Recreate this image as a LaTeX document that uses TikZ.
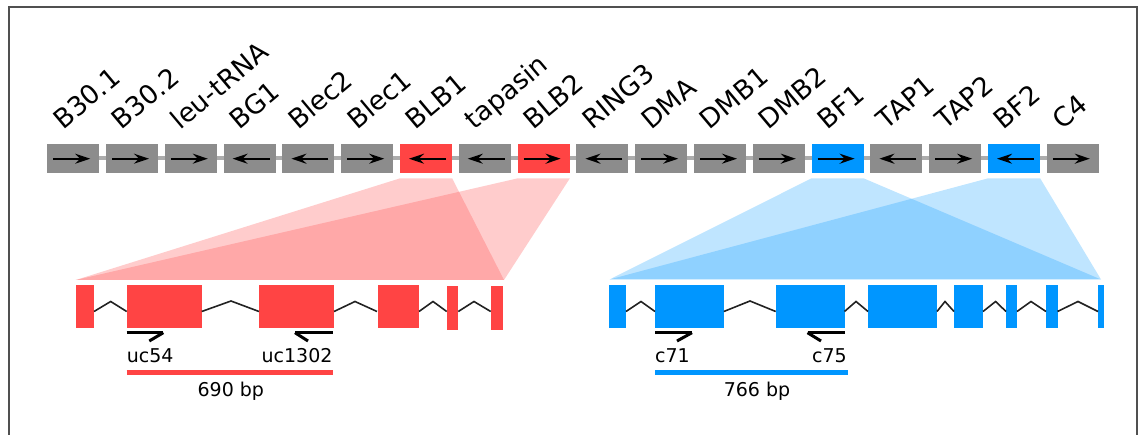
\documentclass[tikz,border=0pt]{standalone}
\usepackage{fontspec}
\setmainfont{DejaVu Sans}
\usetikzlibrary{arrows.meta,calc}
\definecolor{gbox}{RGB}{140,140,140}
\definecolor{gline}{RGB}{172,172,172}
\definecolor{rex}{RGB}{255,68,68}
\definecolor{bex}{RGB}{0,150,255}
\definecolor{framec}{RGB}{80,80,80}
\definecolor{intronc}{RGB}{34,34,34}
\tikzset{
  genebox/.style={draw=none, minimum width=52pt, minimum height=29pt, inner sep=0pt, anchor=north west},
  garrow/.style={line width=1.8pt, -{Stealth[length=15pt,width=10pt,inset=5pt]}},
  glabel/.style={anchor=base west, inner sep=0pt, rotate=40, font=\fontsize{26.5}{26.5}\selectfont},
  btxt/.style={inner sep=0pt, font=\fontsize{19}{19}\selectfont},
  intron/.style={draw=intronc, line width=1.6pt},
  primer/.style={line width=2.6pt},
  barb/.style={line width=3pt},
}
\begin{document}
\begin{tikzpicture}[x=1pt,y=-1pt]
\useasboundingbox (0,0) rectangle (1143,435);
% frame
\draw[framec, line width=1.8pt] (9.3,440) -- (9.3,7.3) -- (1136.7,7.3) -- (1136.7,440);
% backbone
\draw[gline, line width=4pt] (47,158.5) -- (1099,158.5);
% gene boxes
\foreach \name/\dir/\col [count=\i from 0] in {
  B30.1/1/gbox, B30.2/1/gbox, leu-tRNA/1/gbox, BG1/-1/gbox, Blec2/-1/gbox,
  Blec1/1/gbox, BLB1/-1/rex, tapasin/-1/gbox, BLB2/1/rex, RING3/-1/gbox,
  DMA/1/gbox, DMB1/1/gbox, DMB2/1/gbox, BF1/1/bex, TAP1/-1/gbox,
  TAP2/1/gbox, BF2/-1/bex, C4/1/gbox} {
  \node[genebox, fill=\col] (g\i) at ({47+58.8*\i},144) {};
  \draw[garrow] ($(g\i.center)+({-\dir*20},0)$) -- ($(g\i.center)+({\dir*17},0)$);
  \node[glabel] (l\i) at ({47+58.8*\i+16},130.5) {\name};
}
% projection trapezoids
\coordinate (rL) at (75.7,280);
\coordinate (rR) at (504,280);
\coordinate (bL) at (609.5,279.5);
\coordinate (bR) at (1101,279.5);
\fill[rex, fill opacity=0.27] ([yshift=-5pt]g6.south west) -- ([yshift=-5pt]g6.south east) -- (rR) -- (rL) -- cycle;
\fill[rex, fill opacity=0.27] ([yshift=-5pt]g8.south west) -- ([yshift=-5pt]g8.south east) -- (rR) -- (rL) -- cycle;
\fill[bex, fill opacity=0.25] ([yshift=-5pt]g13.south west) -- ([yshift=-5pt]g13.south east) -- (bR) -- (bL) -- cycle;
\fill[bex, fill opacity=0.25] ([yshift=-5pt]g16.south west) -- ([yshift=-5pt]g16.south east) -- (bR) -- (bL) -- cycle;
% red gene structure
\fill[rex] (76,285) rectangle (94,328.3);
\fill[rex] (126.7,285) rectangle (201.7,328.3);
\fill[rex] (259,285) rectangle (334,328.3);
\fill[rex] (378,285) rectangle (419,328.3);
\fill[rex] (446.7,286) rectangle (458.3,330);
\fill[rex] (490.7,286) rectangle (502.7,330);
\draw[intron] (94,311.5) -- (110.7,301.5) -- (126.7,311.5);
\draw[intron] (201.7,311.5) -- (231,301) -- (259,311.5);
\draw[intron] (334,311.5) -- (355,301.5) -- (377,311.5);
\draw[intron] (419,311.5) -- (433,301.5) -- (446.7,311.5);
\draw[intron] (458.3,311.5) -- (474,301.5) -- (490.7,311.5);
% blue gene structure
\fill[bex] (609,285) rectangle (626,328.5);
\fill[bex] (655,285) rectangle (723.8,328.5);
\fill[bex] (775.7,285) rectangle (844.5,328.5);
\fill[bex] (868,285) rectangle (937,328.5);
\fill[bex] (954,285) rectangle (983,328.5);
\fill[bex] (1006,285) rectangle (1017,328.5);
\fill[bex] (1046,285) rectangle (1057.5,328.5);
\fill[bex] (1098,285) rectangle (1103.5,328.5);
\draw[intron] (626,311.5) -- (641,301.5) -- (655,311.5);
\draw[intron] (723.8,311.5) -- (750,301) -- (775.7,311.5);
\draw[intron] (844.5,311.5) -- (856,301.5) -- (868,311.5);
\draw[intron] (937,311.5) -- (945,301.5) -- (954,311.5);
\draw[intron] (983,311.5) -- (995.6,301.5) -- (1006,311.5);
\draw[intron] (1017,311.5) -- (1031,301.5) -- (1046,311.5);
\draw[intron] (1057.5,311.5) -- (1078,301.5) -- (1098,311.5);
% primers
\draw[primer] (126.7,332.7) -- (163.3,332.7);
\draw[barb] (163.3,332.7) -- (149.3,341);
\draw[primer] (295,332.7) -- (332.7,332.7);
\draw[barb] (295,332.7) -- (308,341);
\draw[primer] (655,332.7) -- (692,332.7);
\draw[barb] (692,332.7) -- (677,341);
\draw[primer] (807.5,332.7) -- (844.5,332.7);
\draw[barb] (807.5,332.7) -- (821,341);
% primer labels
\node[btxt, anchor=base west] (uc54) at (126.7,362.7) {uc54};
\node[btxt, anchor=base east] (uc1302) at (332.7,362.7) {uc1302};
\node[btxt, anchor=base west] (c71) at (655,362.7) {c71};
\node[btxt, anchor=base east] (c75) at (847,362.7) {c75};
% product bars
\draw[rex, line width=5pt] (126.7,372.5) -- (332.7,372.5);
\draw[bex, line width=5pt] (655,372.5) -- (848,372.5);
\node[btxt, anchor=base] (s1) at (230.8,396) {690 bp};
\node[btxt, anchor=base] (s2) at (757,396) {766 bp};
\end{tikzpicture}
\end{document}
